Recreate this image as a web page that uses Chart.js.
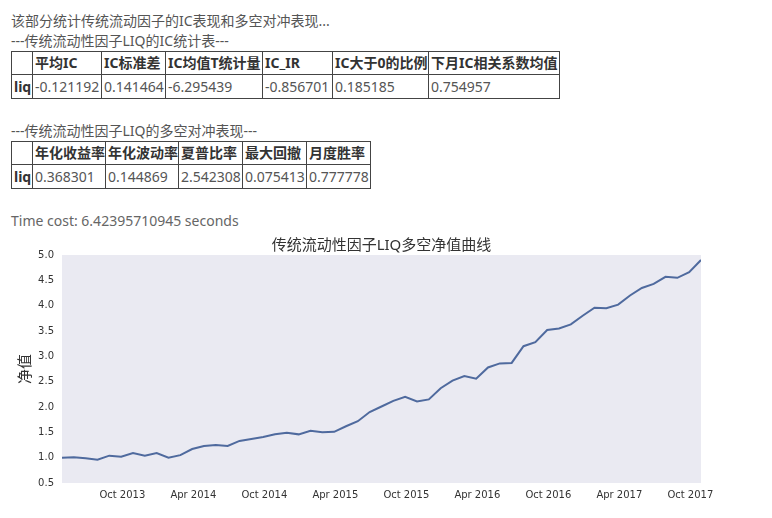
<!DOCTYPE html>
<html>
<head>
<meta charset="utf-8">
<script src="https://cdn.jsdelivr.net/npm/chart.js@4/dist/chart.umd.min.js"></script>
<style>
  body { margin: 0; background: #fff; width: 772px; height: 518px; position: relative; overflow: hidden;
         font-family: "Noto Sans", "Noto Sans CJK SC", sans-serif; font-size: 14px; color: #555; }
  .line { position: absolute; left: 11px; line-height: 20px; white-space: nowrap; }
  table { position: absolute; left: 11px; border-collapse: collapse; table-layout: fixed; }
  th, td { border: 1px solid #444; padding: 0 0 0 2px; white-space: nowrap; text-align: left;
           overflow: hidden; line-height: 22px; height: 22px; }
  th { font-weight: bold; color: #333; }
  td { color: #555; }
  tr.data td, tr.data th { line-height: 23px; height: 23px; }
  #chart { position: absolute; left: 0; top: 232px; }
</style>
</head>
<body>
<div class="line" style="top:11px">该部分统计传统流动因子的IC表现和多空对冲表现...</div>
<div class="line" style="top:31px">---传统流动性因子LIQ的IC统计表---</div>
<table id="ic-table" style="top:51px"></table>
<div class="line" style="top:121px">---传统流动性因子LIQ的多空对冲表现---</div>
<table id="ls-table" style="top:141px"></table>
<div class="line" style="top:211px; color:#666">Time cost: 6.42395710945 seconds</div>
<canvas id="chart" width="772" height="286"></canvas>

<script>
// IC stats table
const icHeaders = ['平均IC', 'IC标准差', 'IC均值T统计量', 'IC_IR', 'IC大于0的比例', '下月IC相关系数均值'];
const icValues = ['-0.121192', '0.141464', '-6.295439', '-0.856701', '0.185185', '0.754957'];
const icWidths = [21, 69, 64, 97, 70, 96, 131];

// long-short table
const lsHeaders = ['年化收益率', '年化波动率', '夏普比率', '最大回撤', '月度胜率'];
const lsValues = ['0.368301', '0.144869', '2.542308', '0.075413', '0.777778'];
const lsWidths = [21, 73, 73, 64, 64, 64];

// net value curve (month-end)
const months = [
  '2013-04','2013-05','2013-06','2013-07','2013-08','2013-09','2013-10','2013-11','2013-12',
  '2014-01','2014-02','2014-03','2014-04','2014-05','2014-06','2014-07','2014-08','2014-09','2014-10','2014-11','2014-12',
  '2015-01','2015-02','2015-03','2015-04','2015-05','2015-06','2015-07','2015-08','2015-09','2015-10','2015-11','2015-12',
  '2016-01','2016-02','2016-03','2016-04','2016-05','2016-06','2016-07','2016-08','2016-09','2016-10','2016-11','2016-12',
  '2017-01','2017-02','2017-03','2017-04','2017-05','2017-06','2017-07','2017-08','2017-09','2017-10'
];
const netValue = [
  1.00, 1.01, 0.99, 0.96, 1.04, 1.02, 1.09, 1.04, 1.09,
  1.00, 1.05, 1.17, 1.23, 1.25, 1.23, 1.33, 1.37, 1.41, 1.46, 1.49, 1.46,
  1.53, 1.50, 1.51, 1.62, 1.72, 1.90, 2.01, 2.12, 2.20, 2.11, 2.15, 2.37,
  2.52, 2.61, 2.56, 2.78, 2.86, 2.87, 3.20, 3.28, 3.52, 3.55, 3.63, 3.80,
  3.96, 3.95, 4.02, 4.20, 4.35, 4.43, 4.57, 4.55, 4.66, 4.90
];
const xTickLabels = ['Oct 2013', 'Apr 2014', 'Oct 2014', 'Apr 2015', 'Oct 2015', 'Apr 2016', 'Oct 2016', 'Apr 2017', 'Oct 2017'];
const yTicks = [0.5, 1.0, 1.5, 2.0, 2.5, 3.0, 3.5, 4.0, 4.5, 5.0];

function buildTable(id, widths, headers, values) {
  const t = document.getElementById(id);
  t.innerHTML = '<colgroup>' + widths.map(w => `<col style="width:${w}px">`).join('') + '</colgroup>'
    + '<tr><th></th>' + headers.map(h => `<th>${h}</th>`).join('') + '</tr>'
    + '<tr class="data"><th>liq</th>' + values.map(v => `<td>${v}</td>`).join('') + '</tr>';
}
buildTable('ic-table', icWidths, icHeaders, icValues);
buildTable('ls-table', lsWidths, lsHeaders, lsValues);

const MON = { Jan: 0, Feb: 1, Mar: 2, Apr: 3, May: 4, Jun: 5, Jul: 6, Aug: 7, Sep: 8, Oct: 9, Nov: 10, Dec: 11 };
// months since Jan 2013; month-end points sit near the end of their month
function monthPos(s) {
  const [y, m] = s.split('-').map(Number);
  return (y - 2013) * 12 + (m - 1) + 0.9;
}
function labelPos(s) {
  const [mon, y] = s.split(' ');
  return (Number(y) - 2013) * 12 + MON[mon];
}

const points = months.map((m, i) => ({ x: monthPos(m), y: netValue[i] }));
const tickFont = { family: '"DejaVu Sans", sans-serif', size: 10 };

const plotBg = {
  id: 'plotBg',
  beforeDraw(chart) {
    const { ctx, chartArea: a } = chart;
    ctx.save();
    ctx.fillStyle = '#EAEAF2';
    ctx.fillRect(a.left, a.top, a.right - a.left, a.bottom - a.top);
    ctx.restore();
  }
};

new Chart(document.getElementById('chart').getContext('2d'), {
  type: 'line',
  data: {
    datasets: [{
      data: points,
      borderColor: '#4f6a9e',
      borderWidth: 2,
      pointRadius: 0,
      tension: 0,
      fill: false
    }]
  },
  plugins: [plotBg],
  options: {
    responsive: false,
    animation: false,
    devicePixelRatio: 1,
    layout: { padding: { left: 0, right: 71, top: 0, bottom: 0 } },
    plugins: {
      legend: { display: false },
      tooltip: { enabled: false },
      title: {
        display: true,
        fullSize: false,
        text: '传统流动性因子LIQ多空净值曲线',
        color: '#333',
        font: { family: '"Noto Sans", "Noto Sans CJK SC", sans-serif', size: 15, weight: 'normal' },
        padding: { top: 5, bottom: 0 }
      }
    },
    scales: {
      x: {
        type: 'linear',
        min: points[0].x,
        max: points[points.length - 1].x,
        grid: { display: false, drawTicks: false },
        border: { display: false },
        afterBuildTicks(scale) {
          scale.ticks = xTickLabels.map(l => ({ value: labelPos(l), label: l }));
        },
        ticks: {
          autoSkip: false,
          maxRotation: 0,
          padding: 6,
          color: '#333',
          font: tickFont,
          callback(v) {
            const l = xTickLabels.find(s => labelPos(s) === v);
            return l || '';
          }
        },
        afterFit(scale) { scale.height = 35; }
      },
      y: {
        min: 0.5,
        max: 5.0,
        grid: { display: false, drawTicks: false },
        border: { display: false },
        afterBuildTicks(scale) {
          scale.ticks = yTicks.map(v => ({ value: v }));
        },
        ticks: {
          padding: 8,
          color: '#333',
          font: tickFont,
          callback: v => v.toFixed(1)
        },
        title: {
          display: true,
          text: '净值',
          color: '#333',
          font: { family: '"Noto Sans CJK SC", sans-serif', size: 15 },
          padding: { top: 15, bottom: 0 }
        },
        afterFit(scale) { scale.width = 62; }
      }
    }
  }
});
</script>
</body>
</html>
